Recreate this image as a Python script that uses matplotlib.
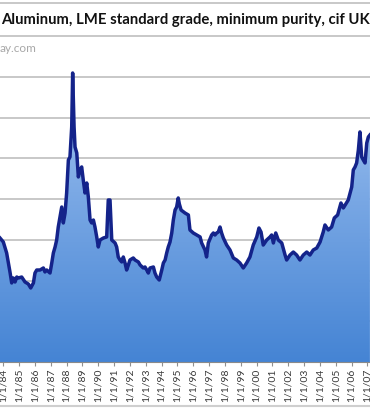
#!/usr/bin/env python
# -*- coding: utf-8 -*-
import numpy as np
import matplotlib
matplotlib.use('Agg')
import matplotlib.pyplot as plt
from matplotlib.colors import LinearSegmentedColormap
from matplotlib.lines import Line2D

plt.rcParams['font.family'] = ['Lato', 'DejaVu Sans']

# monthly price, USD per metric ton
years = [1983.79, 1984.00, 1984.21, 1984.32, 1984.42, 1984.53, 1984.63, 1984.74, 1984.85, 1984.95,
         1985.16, 1985.37, 1985.58, 1985.73, 1985.90, 1986.00, 1986.11, 1986.32, 1986.53, 1986.63,
         1986.74, 1986.95, 1987.06, 1987.16, 1987.27, 1987.37, 1987.47, 1987.58, 1987.69, 1987.79,
         1987.90, 1988.00, 1988.11, 1988.21, 1988.32, 1988.38, 1988.47, 1988.53, 1988.64, 1988.74,
         1988.85, 1988.95, 1989.05, 1989.16, 1989.27, 1989.37, 1989.48, 1989.58, 1989.69, 1989.79,
         1989.90, 1990.00, 1990.11, 1990.32, 1990.53, 1990.63, 1990.74, 1990.85, 1991.06, 1991.16,
         1991.26, 1991.37, 1991.48, 1991.58, 1991.69, 1991.79, 1991.90, 1992.00, 1992.21, 1992.32,
         1992.53, 1992.64, 1992.84, 1992.95, 1993.06, 1993.16, 1993.27, 1993.48, 1993.58, 1993.69,
         1993.85, 1994.01, 1994.11, 1994.22, 1994.32, 1994.42, 1994.53, 1994.64, 1994.74, 1994.85,
         1994.95, 1995.05, 1995.12, 1995.23, 1995.48, 1995.69, 1995.79, 1996.00, 1996.22, 1996.43,
         1996.53, 1996.74, 1996.84, 1996.95, 1997.16, 1997.27, 1997.37, 1997.48, 1997.58, 1997.69,
         1997.79, 1997.90, 1998.11, 1998.32, 1998.53, 1998.74, 1998.95, 1999.16, 1999.37, 1999.58,
         1999.79, 2000.01, 2000.15, 2000.28, 2000.42, 2000.64, 2000.85, 2000.95, 2001.06, 2001.21,
         2001.37, 2001.59, 2001.80, 2001.90, 2002.11, 2002.32, 2002.53, 2002.74, 2002.95, 2003.17,
         2003.37, 2003.58, 2003.80, 2004.01, 2004.21, 2004.32, 2004.53, 2004.74, 2004.91, 2005.12,
         2005.33, 2005.48, 2005.79, 2006.01, 2006.11, 2006.22, 2006.32, 2006.43, 2006.53, 2006.64,
         2006.74, 2006.85, 2006.96, 2007.06, 2007.16]
price = [1523, 1474, 1339, 1216, 1106, 971, 1032, 983, 1044, 1032,
         1044, 983, 958, 909, 971, 1093, 1130, 1130, 1155, 1106,
         1130, 1093, 1216, 1339, 1413, 1499, 1658, 1781, 1904, 1708,
         1830, 2076, 2482, 2519, 2887, 3550, 2887, 2641, 2568, 2273,
         2359, 2396, 2236, 2076, 2199, 2027, 1744, 1708, 1744, 1658,
         1536, 1413, 1499, 1523, 1536, 1990, 1990, 1499, 1462, 1413,
         1290, 1253, 1229, 1290, 1216, 1130, 1192, 1253, 1278, 1253,
         1229, 1192, 1155, 1167, 1130, 1093, 1155, 1167, 1093, 1044,
         1007, 1130, 1216, 1253, 1339, 1413, 1474, 1585, 1744, 1867,
         1904, 2015, 1941, 1867, 1830, 1806, 1622, 1585, 1560, 1536,
         1462, 1376, 1290, 1462, 1560, 1585, 1560, 1585, 1597, 1658,
         1585, 1523, 1437, 1376, 1278, 1253, 1216, 1155, 1216, 1290,
         1437, 1536, 1646, 1597, 1437, 1499, 1536, 1560, 1462, 1585,
         1499, 1462, 1314, 1253, 1314, 1351, 1314, 1253, 1314, 1351,
         1314, 1376, 1400, 1474, 1597, 1683, 1622, 1658, 1769, 1806,
         1953, 1892, 1990, 2150, 2359, 2396, 2445, 2604, 2826, 2519,
         2482, 2445, 2690, 2764, 2789]

tick_years = list(range(1984, 2008))
tick_labels = ['1/1/%02d' % (y % 100) for y in tick_years]

title = 'Aluminum, LME standard grade, minimum purity, cif UK'
source = 'ay.com'

W, H = 370, 409
fig = plt.figure(figsize=(W / 100, H / 100), dpi=100)
fig.patch.set_facecolor('white')

ax = fig.add_axes([0, 47 / H, 1, 359 / H])
xmin, xmax = 1983.79, 2007.165
ymax = 4410
ax.set_xlim(xmin, xmax)
ax.set_ylim(0, ymax)

# gradient fill under the line
cmap = LinearSegmentedColormap.from_list('blu', ['#4584d4', '#7eabe6', '#c8ddf7'])
grad = np.linspace(0, 1, 256).reshape(-1, 1)
poly = ax.fill_between(years, price, 0, color='none', lw=0)
img = ax.imshow(grad, cmap=cmap, origin='lower', aspect='auto',
                extent=[xmin, xmax, 0, ymax], zorder=1)
img.set_clip_path(poly.get_paths()[0], transform=ax.transData)

ax.plot(years, price, color='#14238a', lw=2.5, zorder=3, solid_joinstyle='round')

ax.set_yticks(np.arange(500, 4001, 500))
ax.yaxis.grid(True, color='#c8c8c8', lw=1.4, zorder=0)
ax.set_axisbelow(True)
ax.tick_params(axis='y', left=False, labelleft=False)

ax.set_xticks(tick_years)
ax.set_xticklabels(tick_labels, rotation=90, fontsize=7.5, color='#3a3a3a')
ax.tick_params(axis='x', length=3, color='#909090', pad=2)

for s in ['left', 'right']:
    ax.spines[s].set_visible(False)
ax.spines['top'].set_color('#c8c8c8')
ax.spines['top'].set_linewidth(1.4)
ax.spines['bottom'].set_color('#8a8a8a')
ax.spines['bottom'].set_zorder(4)

ax.text(0.003, (H - 20) / H, title, transform=fig.transFigure, fontsize=10.7,
        fontweight='bold', ha='left', va='center', color='#111111')
ax.text(0.0, (H - 49) / H, source, transform=fig.transFigure, fontsize=8.5,
        ha='left', va='center', color='#a8a8a8')

fig.add_artist(Line2D([0, 1], [3 / H, 3 / H], transform=fig.transFigure,
                      color='#cfcfcf', lw=1.5))

fig.savefig('out.png', dpi=100)
